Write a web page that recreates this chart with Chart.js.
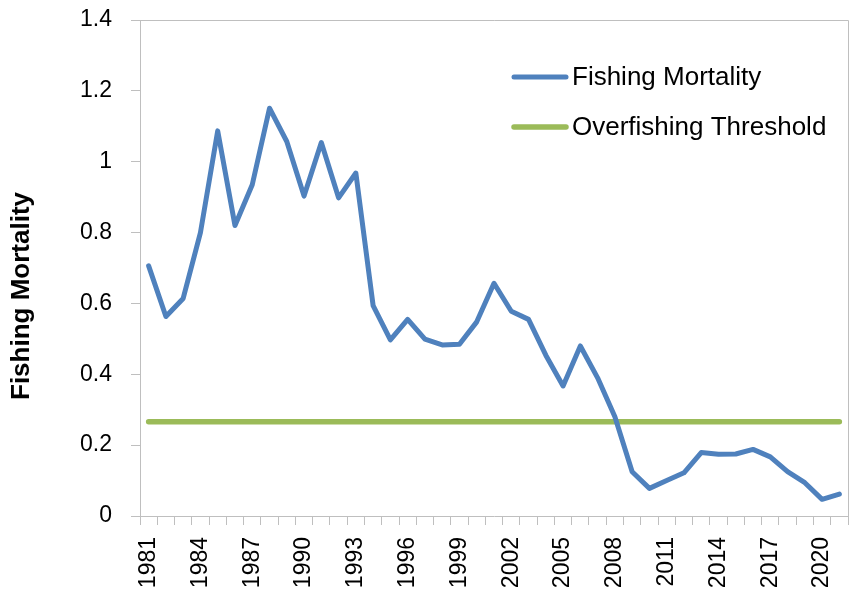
<!DOCTYPE html>
<html>
<head>
<meta charset="utf-8">
<script src="https://cdn.jsdelivr.net/npm/chart.js@4.4.0/dist/chart.umd.min.js"></script>
<style>
    html, body { margin: 0; padding: 0; background: #fff; }
</style>
</head>
<body>
<canvas id="mortalityChart" width="855" height="595"></canvas>
<script>
// Data
const years = ['1981', '1982', '1983', '1984', '1985', '1986', '1987', '1988', '1989', '1990',
    '1991', '1992', '1993', '1994', '1995', '1996', '1997', '1998', '1999', '2000',
    '2001', '2002', '2003', '2004', '2005', '2006', '2007', '2008', '2009', '2010',
    '2011', '2012', '2013', '2014', '2015', '2016', '2017', '2018', '2019', '2020', '2021'];

const fishingMortality = [0.706, 0.563, 0.614, 0.800, 1.087, 0.820, 0.935, 1.151, 1.057, 0.903,
    1.054, 0.898, 0.968, 0.594, 0.497, 0.555, 0.499, 0.483, 0.485, 0.548,
    0.657, 0.578, 0.555, 0.454, 0.367, 0.480, 0.390, 0.280, 0.125, 0.078,
    0.100, 0.122, 0.179, 0.174, 0.175, 0.188, 0.167, 0.125, 0.094, 0.047, 0.062];

const overfishingThreshold = 0.266;

const xTickLabels = ['1981', '1984', '1987', '1990', '1993', '1996', '1999', '2002',
    '2005', '2008', '2011', '2014', '2017', '2020'];
const yTickLabels = ['0', '0.2', '0.4', '0.6', '0.8', '1', '1.2', '1.4'];

const axisGrey = '#BFBFBF';
const fontFamily = "'Liberation Sans', Arial, sans-serif";

// Plot-area box, y title and the in-chart legend, Excel style
const excelDecor = {
    id: 'excelDecor',
    beforeDatasetsDraw(chart) {
        const { ctx, chartArea } = chart;
        ctx.save();
        ctx.strokeStyle = axisGrey;
        ctx.lineWidth = 1;
        ctx.beginPath();
        ctx.moveTo(chartArea.left, chartArea.top + 0.5);
        ctx.lineTo(chartArea.right + 0.5, chartArea.top + 0.5);
        ctx.lineTo(chartArea.right + 0.5, chartArea.bottom);
        ctx.stroke();
        ctx.restore();
    },
    afterDraw(chart) {
        const { ctx } = chart;
        ctx.save();

        // y axis title
        ctx.translate(22, 296);
        ctx.rotate(-Math.PI / 2);
        ctx.font = 'bold 26px ' + fontFamily;
        ctx.fillStyle = '#000';
        ctx.textAlign = 'center';
        ctx.textBaseline = 'middle';
        ctx.fillText('Fishing Mortality', 0, 0);
        ctx.setTransform(1, 0, 0, 1, 0, 0);

        // legend
        const rows = [77, 127];
        chart.data.datasets.forEach((ds, i) => {
            const y = rows[i];
            ctx.strokeStyle = ds.borderColor;
            ctx.lineWidth = ds.borderWidth;
            ctx.lineCap = 'round';
            ctx.beginPath();
            ctx.moveTo(514, y);
            ctx.lineTo(566, y);
            ctx.stroke();
            ctx.font = '26px ' + fontFamily;
            ctx.fillStyle = '#000';
            ctx.textAlign = 'left';
            ctx.textBaseline = 'middle';
            ctx.fillText(ds.label, 572, y + 1);
        });
        ctx.restore();
    }
};

new Chart(document.getElementById('mortalityChart'), {
    type: 'line',
    data: {
        labels: years,
        datasets: [{
            label: 'Fishing Mortality',
            data: fishingMortality,
            borderColor: '#4F81BD',
            borderWidth: 5,
            pointRadius: 0,
            tension: 0,
            borderJoinStyle: 'round',
            borderCapStyle: 'round'
        }, {
            label: 'Overfishing Threshold',
            data: years.map(() => overfishingThreshold),
            borderColor: '#9BBB59',
            borderWidth: 5.5,
            pointRadius: 0,
            borderCapStyle: 'round'
        }]
    },
    options: {
        responsive: false,
        animation: false,
        devicePixelRatio: 1,
        layout: { padding: { left: 0, right: 7, top: 20, bottom: 0 } },
        plugins: {
            legend: { display: false },
            tooltip: { enabled: false }
        },
        scales: {
            x: {
                offset: true,
                grid: {
                    offset: true,
                    drawOnChartArea: false,
                    tickLength: 9,
                    color: axisGrey
                },
                border: { color: axisGrey, width: 1 },
                ticks: {
                    autoSkip: false,
                    minRotation: 90,
                    maxRotation: 90,
                    padding: 12,
                    color: '#000',
                    font: { family: fontFamily, size: 23 },
                    callback: function(value) {
                        const label = this.getLabelForValue(value);
                        return xTickLabels.includes(label) ? label : '';
                    }
                },
                afterFit(scale) {
                    scale.height = 79;
                    scale.paddingLeft = 0;
                    scale.paddingRight = 0;
                }
            },
            y: {
                min: 0,
                max: 1.4,
                grid: {
                    drawOnChartArea: false,
                    tickLength: 9,
                    color: axisGrey
                },
                border: { color: axisGrey, width: 1 },
                ticks: {
                    stepSize: 0.2,
                    padding: 19,
                    color: '#000',
                    font: { family: fontFamily, size: 23 },
                    callback: (value, index) => yTickLabels[index]
                },
                afterFit(scale) {
                    scale.width = 140;
                    scale.paddingTop = 0;
                    scale.paddingBottom = 0;
                }
            }
        }
    },
    plugins: [excelDecor]
});
</script>
</body>
</html>
